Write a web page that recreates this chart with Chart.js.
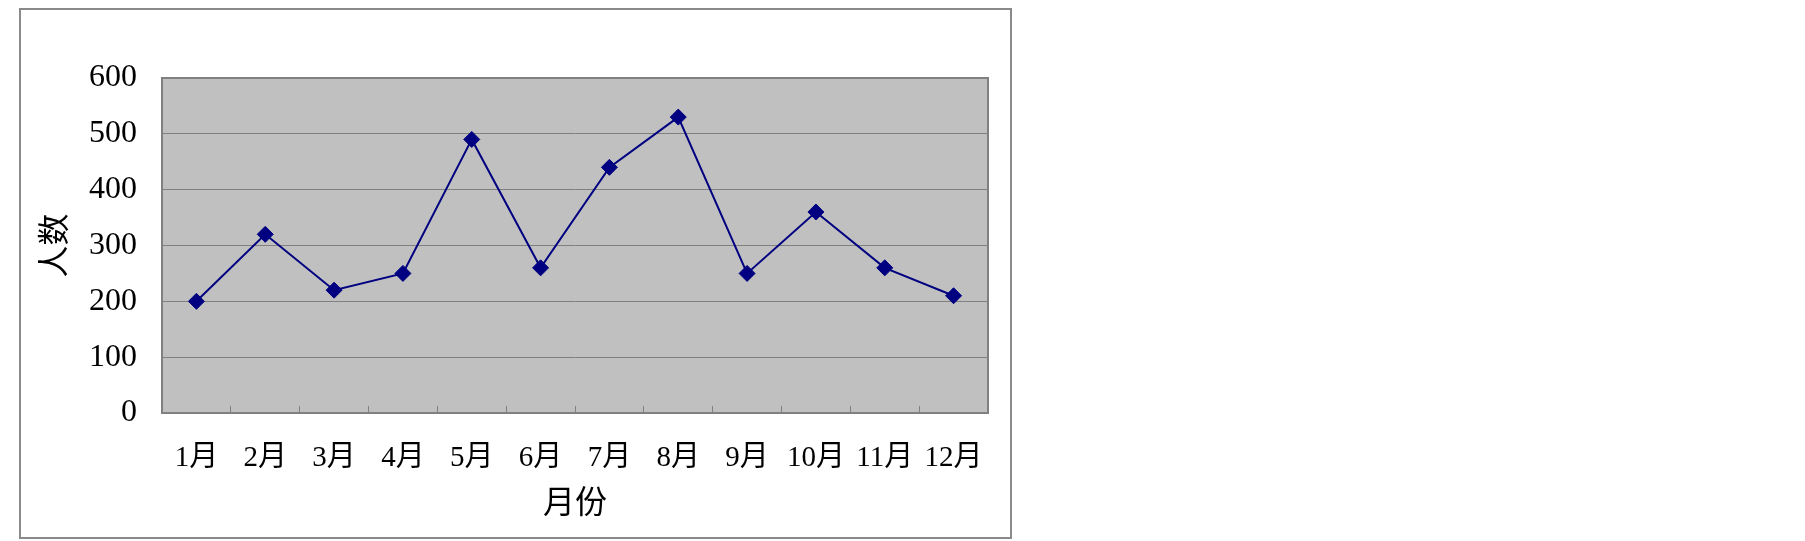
<!DOCTYPE html>
<html>
<head>
<meta charset="utf-8">
<script src="https://cdn.jsdelivr.net/npm/chart.js@4/dist/chart.umd.min.js"></script>
<style>
  html, body { margin: 0; padding: 0; background: #fff; }
  #wrap { position: relative; width: 1805px; height: 541px; }
  #frame { position: absolute; left: 19px; top: 8px; width: 989px; height: 527px; border: 2px solid #8a8a8a; pointer-events: none; }
</style>
</head>
<body>
<div id="wrap">
  <canvas id="monthChart" width="1805" height="541"></canvas>
  <div id="frame"></div>
</div>
<script>
const months = ['1月','2月','3月','4月','5月','6月','7月','8月','9月','10月','11月','12月']
const people = [200, 320, 220, 250, 490, 260, 440, 530, 250, 360, 260, 210]
const yTicks = [0, 100, 200, 300, 400, 500, 600]

const serif = "'Liberation Serif', 'Noto Sans CJK SC', serif"

// grey plot area with a border, like the old office charts
const plotBox = {
  id: 'plotBox',
  beforeDraw(chart) {
    const {ctx, chartArea: a} = chart
    ctx.save()
    ctx.fillStyle = '#c0c0c0'
    ctx.fillRect(a.left, a.top, a.right - a.left, a.bottom - a.top)
    ctx.restore()
  },
  afterDatasetsDraw(chart) {
    const {ctx, chartArea: a} = chart
    ctx.save()
    ctx.strokeStyle = '#808080'
    ctx.lineWidth = 2
    ctx.strokeRect(a.left, a.top, a.right - a.left, a.bottom - a.top)
    ctx.restore()
  }
}

const ctx = document.getElementById('monthChart')

new Chart(ctx, {
  type: 'line',
  data: {
    labels: months,
    datasets: [{
      label: '人数',
      data: people,
      borderColor: '#000080',
      backgroundColor: '#000080',
      borderWidth: 2,
      pointStyle: 'rectRot',
      pointRadius: 8,
      pointBorderWidth: 1,
      pointBackgroundColor: '#000080',
      pointBorderColor: '#000080',
      tension: 0
    }]
  },
  options: {
    responsive: false,
    animation: false,
    events: [],
    layout: {
      padding: { top: 78, right: 817, left: 0, bottom: 0 }
    },
    plugins: {
      legend: { display: false },
      tooltip: { enabled: false }
    },
    scales: {
      x: {
        offset: true,
        afterFit(scale) { scale.height = 128 },
        grid: {
          offset: true,
          drawOnChartArea: false,
          drawTicks: true,
          tickLength: -7,
          color: '#808080'
        },
        border: { color: '#808080', width: 2 },
        ticks: {
          color: '#000',
          padding: 35,
          maxRotation: 0,
          autoSkip: false,
          font: { family: serif, size: 29 }
        },
        title: {
          display: true,
          text: '月份',
          color: '#000',
          padding: { bottom: 17 },
          font: { family: serif, size: 32 }
        }
      },
      y: {
        min: 0,
        max: 600,
        afterFit(scale) { scale.width = 162 },
        afterBuildTicks(scale) { scale.ticks = yTicks.map(v => ({ value: v })) },
        grid: {
          drawTicks: false,
          color: '#808080',
          lineWidth: 1
        },
        border: { color: '#808080', width: 2 },
        ticks: {
          color: '#000',
          padding: 25,
          font: { family: serif, size: 32 }
        },
        title: {
          display: true,
          text: '人数',
          color: '#000',
          padding: { top: 37 },
          font: { family: serif, size: 32 }
        }
      }
    }
  },
  plugins: [plotBox]
});
</script>
</body>
</html>
